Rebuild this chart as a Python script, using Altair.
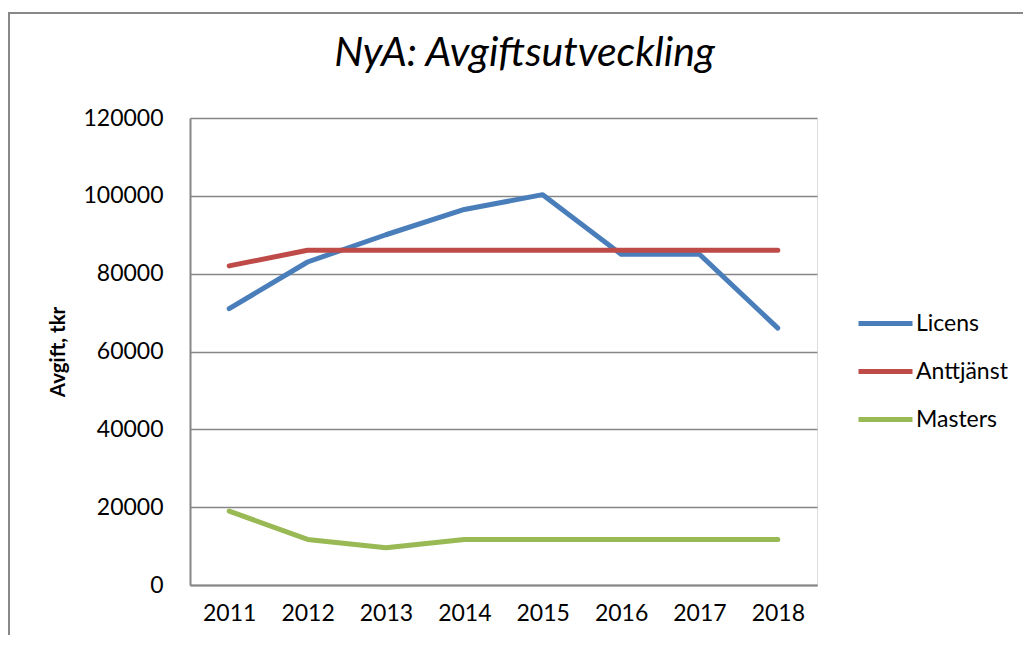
import altair as alt
import pandas as pd

years = ["2011", "2012", "2013", "2014", "2015", "2016", "2017", "2018"]
licens = [71000, 83000, 90000, 96500, 100300, 85000, 85000, 66000]
anttjanst = [82000, 86000, 86000, 86000, 86000, 86000, 86000, 86000]
masters = [19000, 11700, 9600, 11700, 11700, 11700, 11700, 11700]
series_names = ["Licens", "Anttjänst", "Masters"]
series_colors = ["#4A7EBB", "#BE4B48", "#98B954"]
y_ticks = [0, 20000, 40000, 60000, 80000, 100000, 120000]

rows = []
for name, vals in zip(series_names, [licens, anttjanst, masters]):
    for yr, v in zip(years, vals):
        rows.append({"År": yr, "Serie": name, "Avgift": v})
df = pd.DataFrame(rows)

FONT = "Lato"
W, H = 627, 467

lines = alt.Chart(df).mark_line(strokeWidth=5, strokeCap="round", strokeJoin="round").encode(
    x=alt.X("År:O", sort=years, title=None,
            scale=alt.Scale(type="point", padding=0.5),
            axis=alt.Axis(labelAngle=0, labelFontSize=23, labelFont=FONT, labelColor="#000",
                          ticks=False, domainColor="#868686", domainWidth=2, labelPadding=17,
                          grid=False)),
    y=alt.Y("Avgift:Q", title="Avgift, tkr",
            scale=alt.Scale(domain=[0, 120000], nice=False),
            axis=alt.Axis(values=y_ticks, format="d", labelFontSize=23, labelFont=FONT,
                          labelColor="#000", ticks=False, domainColor="#868686", domainWidth=2,
                          gridColor="#868686", gridWidth=1.5, labelPadding=27,
                          titleFont=FONT, titleFontSize=20.5, titleFontWeight="bold",
                          titleColor="#000", titlePadding=14)),
    color=alt.Color("Serie:N", sort=series_names,
                    scale=alt.Scale(domain=series_names, range=series_colors),
                    legend=alt.Legend(title=None, orient="none", legendX=666, legendY=176,
                                      symbolType="stroke", symbolSize=2916, symbolStrokeWidth=5,
                                      labelFont=FONT, labelFontSize=23, labelColor="#000",
                                      labelOffset=1, rowPadding=6)),
)

frame = alt.Chart(pd.DataFrame({"a": [0]})).mark_rect(
    fill=None, stroke="#888888", strokeWidth=2, clip=False
).encode(
    x=alt.value(-181), x2=alt.value(W + 300),
    y=alt.value(-105), y2=alt.value(H + 200),
)

chart = alt.layer(frame, lines).properties(
    width=W, height=H,
    title=alt.TitleParams("NyA: Avgiftsutveckling", font=FONT, fontSize=41, fontStyle="italic",
                          fontWeight="normal", color="#000", dx=21, offset=-95,
                          baseline="alphabetic"),
    autosize=alt.AutoSizeParams(type="none"),
    padding={"left": 182, "top": 110, "right": 206, "bottom": 50},
).configure_view(stroke=None).configure(background="white")

chart.save("out.html", embed_options={"renderer": "svg", "actions": False})
